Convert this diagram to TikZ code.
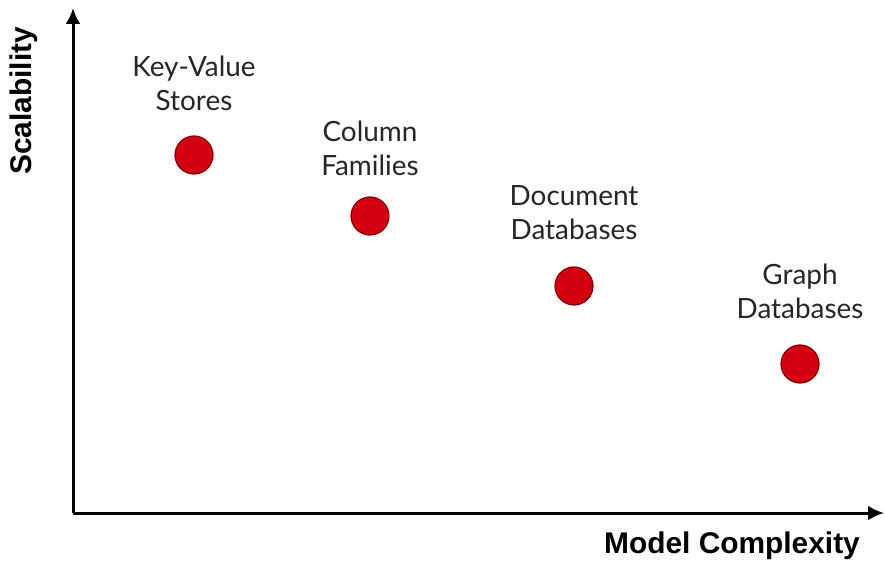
\documentclass[tikz,border=0pt]{standalone}
\usepackage{fontspec}
\setmainfont{Lato}
\newfontfamily\axisfont{Liberation Sans}
\usetikzlibrary{arrows.meta}

\begin{document}
\begin{tikzpicture}[x=1bp,y=-1bp,
                    db node/.style={circle,draw={rgb,255:red,130;green,0;blue,0},line width=1.2bp,
                                    fill={rgb,255:red,210;green,0;blue,18},minimum size=38bp,inner sep=0pt},
                    db label/.style={align=center,font=\fontsize{28}{34}\selectfont,text=black!85},
                    axis label/.style={font=\axisfont\bfseries\fontsize{30}{32}\selectfont}]

        \useasboundingbox (0,0) rectangle (884,562);

        % Axes
        \coordinate (origin) at (73,513);
        \coordinate (ytop) at (73,8);
        \coordinate (xend) at (884,513);
        \draw[line width=3bp,-{Latex[length=16bp,width=15bp]}] (origin) -- (ytop);
        \draw[line width=3bp,-{Latex[length=16bp,width=15bp]}] (origin) -- (xend);

        \node[axis label,rotate=90] (ylabel) at (24,101) {Scalability};
        \node[axis label] (xlabel) at (732,546) {Model Complexity};

        % Databases
        \node[db node] (kv) at (194,155) {};
        \node[db node] (col) at (370,216) {};
        \node[db node] (doc) at (574,286) {};
        \node[db node] (graph) at (800,364) {};

        % Labels
        \node[db label] (kvlabel) at (194,83) {Key-Value\\Stores};
        \node[db label] (collabel) at (370,148) {Column\\Families};
        \node[db label] (doclabel) at (574,213) {Document\\Databases};
        \node[db label] (graphlabel) at (800,291) {Graph\\Databases};

\end{tikzpicture}
\end{document}
